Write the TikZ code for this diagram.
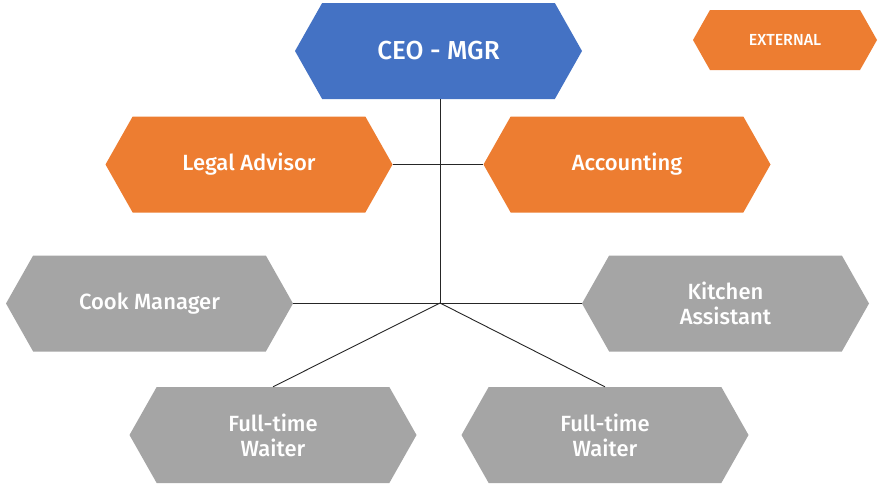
\documentclass[tikz,border=0pt]{standalone}
\usepackage{fontspec}
\setmainfont{Fira Sans}[BoldFont={Fira Sans Medium}]
\usetikzlibrary{shapes.symbols}
\definecolor{ceoblue}{HTML}{4472C4}
\definecolor{extorange}{HTML}{ED7D31}
\definecolor{staffgray}{HTML}{A5A5A5}
\definecolor{linkgray}{HTML}{262626}
\tikzset{
  hexbox/.style={shape=signal, signal to=west and east, signal pointer angle=121,
    minimum width=287pt, minimum height=96pt, inner sep=0pt, draw=none,
    text=white, align=center, font=\bfseries\fontsize{22}{25}\selectfont},
  link/.style={draw=linkgray, line width=0.9pt}
}
\begin{document}
\begin{tikzpicture}[x=1pt,y=-1pt]
  \useasboundingbox[fill=white] (0,0) rectangle (878,485);
  % top level
  \node[hexbox, fill=ceoblue, font=\bfseries\fontsize{26}{30}\selectfont] (ceo) at (438.5,51) {CEO - MGR};
  \node[hexbox, fill=extorange, minimum width=184pt, minimum height=60pt,
        font=\bfseries\fontsize{16}{19}\selectfont] (ext) at (785,40) {EXTERNAL};
  % external advisors
  \node[hexbox, fill=extorange] (legal) at (249,164.5) {Legal Advisor};
  \node[hexbox, fill=extorange] (acct) at (627,164.5) {Accounting};
  % staff
  \node[hexbox, fill=staffgray] (cook) at (149.5,303.5) {Cook Manager};
  \node[hexbox, fill=staffgray] (kitchen) at (725.5,303.5) {Kitchen\\Assistant};
  \node[hexbox, fill=staffgray] (waiterA) at (273,435) {Full-time\\Waiter};
  \node[hexbox, fill=staffgray] (waiterB) at (605,435) {Full-time\\Waiter};
  % connectors
  \coordinate (hub) at (440,303);
  \draw[link] (ceo.south -| hub) -- (hub);
  \draw[link] (legal.east) -- (acct.west);
  \draw[link] (cook.east) -- (kitchen.west);
  \draw[link] (hub) -- (waiterA.north);
  \draw[link] (hub) -- (waiterB.north);
\end{tikzpicture}
\end{document}
